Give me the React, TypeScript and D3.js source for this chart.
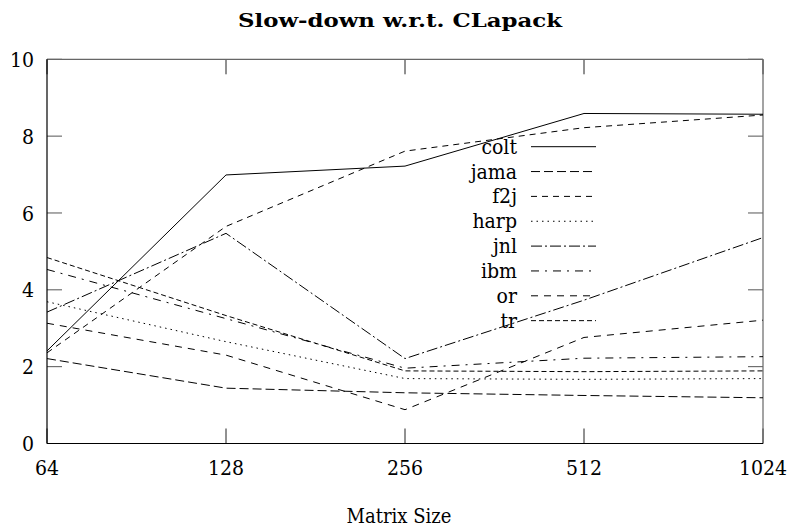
import React from "react";
import * as d3 from "d3";

// Matrix sizes on the x axis (log2 spaced)
const sizes = [64, 128, 256, 512, 1024];
const yTicks = [0, 2, 4, 6, 8, 10];

// Slow-down factors relative to CLapack, one array per library
const colt = [2.41, 6.99, 7.22, 8.59, 8.57];
const jama = [2.21, 1.44, 1.32, 1.25, 1.19];
const f2j = [2.36, 5.65, 7.61, 8.22, 8.55];
const harp = [3.69, 2.65, 1.69, 1.67, 1.69];
const jnl = [3.42, 5.47, 2.21, 3.73, 5.36];
const ibm = [4.53, 3.25, 1.96, 2.22, 2.26];
const or = [3.13, 2.3, 0.88, 2.76, 3.21];
const tr = [4.84, 3.33, 1.89, 1.87, 1.89];

const seriesNames = ["colt", "jama", "f2j", "harp", "jnl", "ibm", "or", "tr"];
const seriesValues = [colt, jama, f2j, harp, jnl, ibm, or, tr];
const dashes = ["", "9,4", "6,5", "1.5,4", "11,3,2,3", "8,6,2,6", "7,6", "5,3"];

const W = 791;
const H = 529;
const left = 47;
const right = 763;
const top = 59.3;
const bottom = 443.5;
const tickLen = 15;

const SERIF = "'DejaVu Serif Condensed', 'DejaVu Serif', serif";
const BOLD = "'DejaVu Serif', serif";

export default function App() {
  const x = d3.scaleLog().base(2).domain([64, 1024]).range([left, right]);
  const y = d3.scaleLinear().domain([0, 10]).range([bottom, top]);
  const line = d3
    .line<number>()
    .x((_, i) => x(sizes[i]))
    .y((d) => y(d));

  const legendX = 517;
  const sampleX0 = 531;
  const sampleX1 = 596;
  const legendY0 = 146.7;
  const legendStep = 24.85;
  const txt = { fontFamily: SERIF, fontStretch: "condensed" as const };

  return (
    <svg
      width={W}
      height={H}
      style={{ position: "absolute", left: 0, top: 0, background: "#fff" }}
    >
      <rect x={0} y={0} width={W} height={H} fill="#fff" />
      <text
        x={400}
        y={27}
        textAnchor="middle"
        fontWeight="bold"
        fontSize={18}
        textLength={324}
        lengthAdjust="spacingAndGlyphs"
        fill="#000"
        style={{ fontFamily: BOLD }}
      >
        Slow-down w.r.t. CLapack
      </text>

      {/* ticks on all four sides, pointing inward */}
      {yTicks.map((t) => (
        <g key={"y" + t}>
          <line x1={left} x2={left + tickLen} y1={y(t)} y2={y(t)} stroke="#555" strokeWidth={1} />
          <line x1={right} x2={right - tickLen} y1={y(t)} y2={y(t)} stroke="#555" strokeWidth={1} />
          <text x={34} y={y(t)} dy="0.36em" textAnchor="end" fontSize={21} fill="#000" style={txt}>
            {t}
          </text>
        </g>
      ))}
      {sizes.map((s) => (
        <g key={"x" + s}>
          <line x1={x(s)} x2={x(s)} y1={bottom} y2={bottom - tickLen} stroke="#222" strokeWidth={1} />
          <line x1={x(s)} x2={x(s)} y1={top} y2={top + tickLen} stroke="#222" strokeWidth={1} />
          <text x={x(s)} y={475} textAnchor="middle" fontSize={21} fill="#000" style={txt}>
            {s}
          </text>
        </g>
      ))}

      {/* frame */}
      <line x1={left} x2={right} y1={top} y2={top} stroke="#666" strokeWidth={1.2} />
      <line x1={right} x2={right} y1={top} y2={bottom} stroke="#666" strokeWidth={1.2} />
      <line x1={left} x2={left} y1={top} y2={bottom} stroke="#000" strokeWidth={1.2} />
      <line x1={left} x2={right} y1={bottom} y2={bottom} stroke="#000" strokeWidth={1.2} />

      {/* series */}
      {seriesValues.map((vals, i) => (
        <path
          key={seriesNames[i]}
          d={line(vals) || ""}
          fill="none"
          stroke="#000"
          strokeWidth={1}
          strokeDasharray={dashes[i] || undefined}
        />
      ))}

      {/* legend */}
      {seriesNames.map((name, i) => {
        const ly = legendY0 + i * legendStep;
        return (
          <g key={"lg" + name}>
            <text x={legendX} y={ly + 7} textAnchor="end" fontSize={21} fill="#000" style={txt}>
              {name}
            </text>
            <line
              x1={sampleX0}
              x2={sampleX1}
              y1={ly}
              y2={ly}
              stroke="#000"
              strokeWidth={1}
              strokeDasharray={dashes[i] || undefined}
            />
          </g>
        );
      })}

      <text x={399} y={523} textAnchor="middle" fontSize={20} fill="#000" style={txt}>
        Matrix Size
      </text>
    </svg>
  );
}
